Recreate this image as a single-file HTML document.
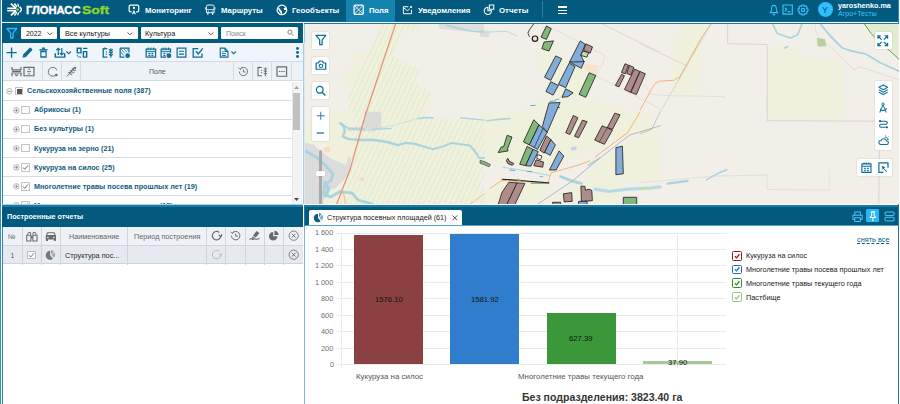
<!DOCTYPE html>
<html>
<head>
<meta charset="utf-8">
<style>
*{box-sizing:border-box;margin:0;padding:0}
html,body{width:900px;height:404px;overflow:hidden;background:#fff;font-family:"Liberation Sans",sans-serif;}
.abs{position:absolute}
.t{position:absolute;white-space:nowrap}
svg{position:absolute;overflow:visible}
#hdr{left:0;top:0;width:900px;height:22px;background:#035a7f}
#lp{left:2px;top:23px;width:300.6px;height:181px;background:#fff;overflow:hidden}
#frow{left:0;top:0;width:301px;height:20px;background:#035a7f}
.sel{position:absolute;top:4px;height:12.3px;background:#fff;border-radius:1px}
#tb{left:0;top:20px;width:301px;height:18px;background:#eff5fa}
#ch{left:0;top:38px;width:301px;height:20px;background:#edf2f7;border-top:1px solid #d3dbe4;border-bottom:1px solid #d3dbe4}
.vs{position:absolute;top:0;width:1px;height:18px;background:#d3dbe4}
.row{position:absolute;left:0;width:289.5px;height:19.1px;border-bottom:1px solid #d9dde2}
.cb{position:absolute;top:5.2px;width:8.4px;height:8.4px;border:0.8px solid #c4c4c4;background:#fbfbfb;border-radius:0.5px}
#map{left:305.3px;top:23.5px;width:593.5px;height:180.3px;background:#f2efe9;overflow:hidden}
.mb{position:absolute;width:17px;height:17px;background:#fff;border-radius:1.5px;box-shadow:0 0 1.5px rgba(0,0,0,.25)}
#bl{left:2px;top:206px;width:300.6px;height:198px;background:#fff;overflow:hidden}
#br{left:305.2px;top:206px;width:593.3px;height:198px;background:#fff;overflow:hidden}
</style>
</head>
<body>
<div id="hdr" class="abs">
<div class="abs" style="left:0;top:21px;width:900px;height:1px;background:#0f6b94"></div>
<div class="abs" style="left:346.2px;top:0;width:48.8px;height:22px;background:#1583b0"></div>
<svg style="left:6.70px;top:3.30px" width="15.00" height="13.00" viewBox="100 50 225 195" preserveAspectRatio="none"><path d="M104 130 H236 M104 166 H236" fill="none" stroke="#fff" stroke-width="24" /><path d="M158 60 L236 130 M158 236 L236 166" fill="none" stroke="#fff" stroke-width="28" /><path d="M212 58 L248 108 M212 238 L248 188" fill="none" stroke="#fff" stroke-width="22" /><path d="M262 62 L274 106 M262 234 L274 190" fill="none" stroke="#fff" stroke-width="20" /><path d="M290 106 L314 138 V158 L290 190" fill="none" stroke="#fff" stroke-width="22" /><circle cx="258" cy="148" r="19" fill="#9fe030"/></svg>
<svg style="left:127.80px;top:4.03px" width="11.89" height="11.35" viewBox="0 0 24 24" preserveAspectRatio="none"><path d="M16.5 16.8 H19 a2.6 2.6 0 0 0 2.6 -2.6 V5 a2.6 2.6 0 0 0 -2.6 -2.6 H5 a2.6 2.6 0 0 0 -2.6 2.6 V14.2 a2.6 2.6 0 0 0 2.6 2.6 H7.5" fill="none" stroke="#fff" stroke-width="2.5" /><circle cx="12" cy="8.2" r="2.3" fill="#fff"/><path d="M12 12 L7.6 22.5 L12 19.8 L16.4 22.5 Z" fill="#fff" /></svg><svg style="left:205.36px;top:4.23px" width="10.47" height="11.35" viewBox="0 0 24 24" preserveAspectRatio="none"><path d="M6.5 2.2 H17.5 a3.3 3.3 0 0 1 3.3 3.3 V18.4 H3.2 V5.5 a3.3 3.3 0 0 1 3.3 -3.3 Z" fill="none" stroke="#fff" stroke-width="2.1" /><path d="M3.2 11.8 H20.8" fill="none" stroke="#fff" stroke-width="1.6" /><path d="M6.5 18.5 V22.5 M17.5 18.5 V22.5" fill="none" stroke="#fff" stroke-width="2.8" /><path d="M1 7 V11.5 M23 7 V11.5" fill="none" stroke="#fff" stroke-width="1.6" /><circle cx="7.6" cy="15" r="1.3" fill="#fff"/><circle cx="16.4" cy="15" r="1.3" fill="#fff"/></svg><svg style="left:275.50px;top:3.80px" width="11.89" height="11.89" viewBox="0 0 24 24" preserveAspectRatio="none"><circle cx="12" cy="12" r="9.6" fill="none" stroke="#fff" stroke-width="2.5"/><path d="M4 8 C7 8 9 9.5 9 11.5 C9 13 11 13 12 14.5 C13 16 11.5 18 12 21 C9 20 9.5 17 8 16 C6 15 6.5 12.5 5 11.5 Z M20.5 7.5 C18 7 15.5 8 15.5 10 C15.5 12 18 12.5 20 12 C21 12 21.5 11 21.5 10 Z" fill="#fff" /></svg><svg style="left:352.53px;top:3.82px" width="11.35" height="11.56" viewBox="0 0 24 24" preserveAspectRatio="none"><rect x="2.3" y="2.3" width="19.4" height="19.4" rx="2.5" fill="none" stroke="#fff" stroke-width="2.6"/><path d="M3 3 L21 21 M21 3 L3 21" fill="none" stroke="#fff" stroke-width="1.7" /><path d="M3 12 C8 10 10 7 12 3 M12 21 C14 16 17 14 21 12" fill="none" stroke="#fff" stroke-width="1.1" /></svg><svg style="left:401.55px;top:4.56px" width="10.91" height="10.47" viewBox="0 0 24 24" preserveAspectRatio="none"><path d="M14 4 H3 V20 H21 V11 M3 6 L12 13 L17 9" fill="none" stroke="#fff" stroke-width="2.2" /><circle cx="20" cy="4.5" r="2.4" fill="#fff"/></svg><svg style="left:482.51px;top:4.13px" width="11.78" height="11.35" viewBox="0 0 24 24" preserveAspectRatio="none"><path d="M10 7 A7.5 7.5 0 1 0 17.5 14.5 H10 Z" fill="none" stroke="#fff" stroke-width="2.1" /><path d="M13 2 H22 V11 H13 Z" fill="none" stroke="#fff" stroke-width="2.1" /></svg><div class="abs" style="left:558px;top:6.2px;width:9px;height:1.4px;background:#fff"></div><div class="abs" style="left:558px;top:9.5px;width:9px;height:1.4px;background:#fff"></div><div class="abs" style="left:558px;top:12.8px;width:9px;height:1.4px;background:#fff"></div><svg style="left:768.89px;top:3.92px" width="9.82" height="11.56" viewBox="0 0 24 24" preserveAspectRatio="none"><path d="M12 3 C7 3 6 7 6 11 C6 15 4 16 3 18 H21 C20 16 18 15 18 11 C18 7 17 3 12 3 Z M9.5 20.5 a2.5 2.5 0 0 0 5 0" fill="none" stroke="#3cc4fb" stroke-width="2.4" /></svg><svg style="left:782.03px;top:4.14px" width="11.35" height="11.13" viewBox="0 0 24 24" preserveAspectRatio="none"><path d="M2.2 2.2 H21.8 V21.8 H2.2 Z" fill="none" stroke="#3cc4fb" stroke-width="2.4" /><path d="M6 8 L10 12 L6 16 M12 16.5 H18" fill="none" stroke="#3cc4fb" stroke-width="2.4" /></svg><svg style="left:796.50px;top:3.90px" width="12.00" height="12.00" viewBox="0 0 24 24" preserveAspectRatio="none"><circle cx="12" cy="12" r="3.2" fill="none" stroke="#3cc4fb" stroke-width="2.3"/><path d="M10 2 H14 L14.8 5 L17.5 3.8 L20.2 6.5 L19 9.2 L22 10 V14 L19 14.8 L20.2 17.5 L17.5 20.2 L14.8 19 L14 22 H10 L9.2 19 L6.5 20.2 L3.8 17.5 L5 14.8 L2 14 V10 L5 9.2 L3.8 6.5 L6.5 3.8 L9.2 5 Z" fill="none" stroke="#3cc4fb" stroke-width="2.2" stroke-linejoin="round"/></svg>
<div class="abs" style="left:542.2px;top:1.2px;width:0.9px;height:17.3px;background:#2c7da5"></div>
<div class="abs" style="left:818px;top:2.3px;width:14.8px;height:14.8px;border-radius:50%;background:#2fbffc"></div>
</div>
<div class="abs" style="left:898px;top:0;width:1px;height:404px;background:#2f89b3"></div>
<div class="abs" style="left:899px;top:0;width:1px;height:404px;background:#fff"></div>
<div class="abs" style="left:0;top:0;width:1px;height:404px;background:#3a8db5"></div>
<div class="abs" style="left:1px;top:0;width:1px;height:404px;background:#fff"></div>
<div id="lp" class="abs">
<div id="frow" class="abs">
<svg style="left:3.71px;top:4.19px" width="11.67" height="12.22" viewBox="0 0 24 24" preserveAspectRatio="none"><path d="M2 3 H22 L14.5 12 V21.5 H9.5 V12 Z" fill="none" stroke="#2dbbf8" stroke-width="2.7" stroke-linejoin="round"/></svg>
<div class="sel" style="left:19.3px;width:35.4px"></div>
<div class="sel" style="left:58px;width:77.5px"></div>
<div class="sel" style="left:138.8px;width:77px"></div>
<div class="sel" style="left:219.2px;width:77.2px"></div>
<svg style="left:45.30px;top:8.70px" width="5.80" height="3.40" viewBox="0 0 12 7" preserveAspectRatio="none"><path d="M1 1 L6 5.5 L11 1" fill="none" stroke="#444" stroke-width="1.8" /></svg><svg style="left:125.30px;top:8.70px" width="5.80" height="3.40" viewBox="0 0 12 7" preserveAspectRatio="none"><path d="M1 1 L6 5.5 L11 1" fill="none" stroke="#444" stroke-width="1.8" /></svg><svg style="left:206.10px;top:8.70px" width="5.80" height="3.40" viewBox="0 0 12 7" preserveAspectRatio="none"><path d="M1 1 L6 5.5 L11 1" fill="none" stroke="#444" stroke-width="1.8" /></svg><svg style="left:285.41px;top:6.49px" width="6.98" height="7.42" viewBox="0 0 24 24" preserveAspectRatio="none"><circle cx="10" cy="10" r="7" fill="none" stroke="#6a6a6a" stroke-width="2.6"/><path d="M15.5 15.5 L22 22" fill="none" stroke="#6a6a6a" stroke-width="2.8" /></svg>
</div>
<div id="tb" class="abs"><svg style="left:4.34px;top:3.93px" width="11.13" height="11.35" viewBox="0 0 24 24" preserveAspectRatio="none"><path d="M12 1 V23 M1 12 H23" fill="none" stroke="#0d6d96" stroke-width="2.88" /></svg><svg style="left:20.05px;top:3.93px" width="10.91" height="11.35" viewBox="0 0 24 24" preserveAspectRatio="none"><path d="M1 23 L3 15.5 L16.5 2 a2.5 2.5 0 0 1 3.5 0 L22 4 a2.5 2.5 0 0 1 0 3.5 L8.5 21 Z" fill="#0d6d96" /></svg><svg style="left:37.13px;top:3.93px" width="8.95" height="11.35" viewBox="0 0 24 24" preserveAspectRatio="none"><path d="M1 6 H23" fill="none" stroke="#0d6d96" stroke-width="3.06" /><path d="M8 2.6 H16" fill="none" stroke="#0d6d96" stroke-width="3.06" /><path d="M5 9.5 H19 V21.2 H5 Z" fill="none" stroke="#0d6d96" stroke-width="3.24" /></svg><svg style="left:51.50px;top:3.93px" width="12.00" height="11.35" viewBox="0 0 24 24" preserveAspectRatio="none"><path d="M2.6 13 V21.3 H21.4 V13" fill="none" stroke="#0d6d96" stroke-width="2.88" /><path d="M8.5 3 V17 M4.6 6.8 L8.5 2.6 L12.4 6.8 M15.5 2 V16.5 M11.6 12.4 L15.5 16.6 L19.4 12.4" fill="none" stroke="#0d6d96" stroke-width="2.43" /></svg><svg style="left:64.00px;top:7.60px" width="5.40" height="3.40" viewBox="0 0 12 7" preserveAspectRatio="none"><path d="M1 1 L6 5.5 L11 1" fill="none" stroke="#0d6d96" stroke-width="2.3" /></svg><svg style="left:73.50px;top:3.93px" width="12.00" height="11.35" viewBox="0 0 24 24" preserveAspectRatio="none"><path d="M2.6 2.6 H10 V12.4 H2.6 Z" fill="none" stroke="#0d6d96" stroke-width="2.88" /><path d="M14 3 H23" fill="none" stroke="#0d6d96" stroke-width="2.7" /><path d="M14.8 9.8 H21.3 V21.3 H14.8 Z" fill="none" stroke="#0d6d96" stroke-width="2.88" /><path d="M2 17 C3 21 6 21.5 10 21.5" fill="none" stroke="#0d6d96" stroke-width="1.98" /></svg><svg style="left:100.29px;top:3.93px" width="12.22" height="11.35" viewBox="0 0 24 24" preserveAspectRatio="none"><path d="M10.5 3.5 H2.4 V21.4 H10.5 M5.5 1 V5.5" fill="none" stroke="#0d6d96" stroke-width="2.61" /><path d="M8.5 9 V11.5 M8.5 14 V16.5" fill="none" stroke="#0d6d96" stroke-width="2.16" /><path d="M17.5 3 V22.5 M17.5 8.5 L13.6 5 M17.5 8.5 L21.4 5 M17.5 13.5 L13.6 10 M17.5 13.5 L21.4 10 M17.5 18.5 L13.6 15 M17.5 18.5 L21.4 15" fill="none" stroke="#0d6d96" stroke-width="2.34" /></svg><svg style="left:116.53px;top:3.93px" width="11.35" height="11.35" viewBox="0 0 24 24" preserveAspectRatio="none"><path d="M2.4 2.4 H21 V11.5 M2.4 2.4 V21.4 H11.5" fill="none" stroke="#0d6d96" stroke-width="2.52" /><path d="M3 3 L12 13 M9 3 L17 11 M3 10 L10 18 M15 3 L20 8" fill="none" stroke="#0d6d96" stroke-width="1.62" /><circle cx="18.3" cy="18.3" r="5" fill="#0d6d96"/></svg><svg style="left:142.51px;top:3.93px" width="11.78" height="11.35" viewBox="0 0 24 24" preserveAspectRatio="none"><path d="M2.4 4.5 H21.6 V21.6 H2.4 Z" fill="none" stroke="#0d6d96" stroke-width="2.52" /><path d="M2.4 9.3 H21.6" fill="none" stroke="#0d6d96" stroke-width="1.98" /><path d="M6.5 1 V6 M12 1 V6 M17.5 1 V6" fill="none" stroke="#0d6d96" stroke-width="2.34" /><path d="M7 12 H11 V15 H7Z M13 12 H17 V15 H13Z M7 16.4 H11 V19.4 H7Z M13 16.4 H17 V19.4 H13Z" fill="#0d6d96" /></svg><svg style="left:158.41px;top:3.93px" width="11.67" height="11.35" viewBox="0 0 24 24" preserveAspectRatio="none"><path d="M12.5 21.6 H2.4 V4.5 H21.6 V12" fill="none" stroke="#0d6d96" stroke-width="2.52" /><path d="M2.4 9.3 H21.6" fill="none" stroke="#0d6d96" stroke-width="1.98" /><path d="M6.5 1 V6 M12 1 V6 M17.5 1 V6" fill="none" stroke="#0d6d96" stroke-width="2.34" /><path d="M7 12 H11 V15 H7Z M13 12 H16 V14 H13Z M7 16.4 H11 V19.4 H7Z" fill="#0d6d96" /><circle cx="18.3" cy="18.3" r="5" fill="#0d6d96"/></svg><svg style="left:174.44px;top:3.93px" width="11.02" height="11.35" viewBox="0 0 24 24" preserveAspectRatio="none"><path d="M2.5 2.5 H21.5 V21.5 H2.5 Z" fill="none" stroke="#0d6d96" stroke-width="2.7" /><path d="M6.5 9 H17.5 M6.5 15 H17.5" fill="none" stroke="#0d6d96" stroke-width="2.61" /></svg><svg style="left:190.01px;top:3.93px" width="11.67" height="11.35" viewBox="0 0 24 24" preserveAspectRatio="none"><path d="M13 3.5 H2.5 V21.5 H20.5 V14" fill="none" stroke="#0d6d96" stroke-width="2.7" /><path d="M8 9 L13 14.5 L22 3" fill="none" stroke="#0d6d96" stroke-width="2.79" /></svg><svg style="left:217.17px;top:3.93px" width="10.25" height="11.35" viewBox="0 0 24 24" preserveAspectRatio="none"><path d="M3 2.5 H14 L21 9.5 V21.5 H3 Z" fill="none" stroke="#0d6d96" stroke-width="2.7" /><path d="M14 2.5 V9.5 H21" fill="none" stroke="#0d6d96" stroke-width="2.16" /><path d="M7 10 H11 M7 14 H16 M7 18 H16" fill="none" stroke="#0d6d96" stroke-width="1.98" /></svg><svg style="left:228.80px;top:7.60px" width="5.40" height="3.40" viewBox="0 0 12 7" preserveAspectRatio="none"><path d="M1 1 L6 5.5 L11 1" fill="none" stroke="#0d6d96" stroke-width="2.3" /></svg><div class="abs" style="left:293.8px;top:4.2px;width:2.9px;height:2.9px;border-radius:50%;background:#0d6d96"></div><div class="abs" style="left:293.8px;top:8.0px;width:2.9px;height:2.9px;border-radius:50%;background:#0d6d96"></div><div class="abs" style="left:293.8px;top:11.8px;width:2.9px;height:2.9px;border-radius:50%;background:#0d6d96"></div></div>
<div id="ch" class="abs">
<div class="vs" style="left:39.8px"></div>
<div class="vs" style="left:58.7px"></div>
<div class="vs" style="left:77.7px"></div>
<div class="vs" style="left:230.8px"></div>
<div class="vs" style="left:250.1px"></div>
<div class="vs" style="left:268.7px"></div>
<div class="vs" style="left:289.0px"></div>
<svg style="left:8.50px;top:3.94px" width="24.00" height="11.13" viewBox="0 0 48 24" preserveAspectRatio="none"><path d="M2 2 V8 H20 V2 M2 22 V15 H20 V22 M2 11.5 H20 M8 18 L11 21 L14 18" fill="none" stroke="#6a6a6a" stroke-width="2.4" /><path d="M26 3 H46 V21 H26 Z" fill="none" stroke="#6a6a6a" stroke-width="2.4" /><path d="M32 12 H40 M33.5 8.5 L36 6 L38.5 8.5 M33.5 15.5 L36 18 L38.5 15.5" fill="none" stroke="#6a6a6a" stroke-width="1.8" /></svg><svg style="left:44.52px;top:3.94px" width="11.45" height="11.13" viewBox="0 0 24 24" preserveAspectRatio="none"><path d="M18 20 A9.5 9.5 0 1 1 21 9" fill="none" stroke="#6a6a6a" stroke-width="2" /><circle cx="19.5" cy="19.5" r="2.8" fill="#6a6a6a"/></svg><svg style="left:63.55px;top:3.94px" width="10.91" height="11.13" viewBox="0 0 24 24" preserveAspectRatio="none"><path d="M2 22.5 L19 5" fill="none" stroke="#6a6a6a" stroke-width="2" /><path d="M22.5 1.5 L21.5 8 L16 2.5 Z M17.5 4.5 L18 11.5 L11.5 5.5 Z M13.5 8.5 L14 15.5 L7.5 9.5 Z M9.5 12.5 L10 19.5 L4 13.5 Z M22.5 9 L19 12 L18.5 8 Z M19 13.5 L15 16 L14.8 12.5 Z M15 17.5 L11 20 L10.8 16.5 Z" fill="#6a6a6a" /></svg><svg style="left:235.85px;top:3.94px" width="10.91" height="11.13" viewBox="0 0 24 24" preserveAspectRatio="none"><path d="M4.5 7 A9 9 0 1 1 3 12" fill="none" stroke="#6a6a6a" stroke-width="2" /><path d="M1 3.5 L5.2 7.8 L8.5 3 " fill="none" stroke="#6a6a6a" stroke-width="1.8" /><path d="M12 7.5 V13 H16.5" fill="none" stroke="#6a6a6a" stroke-width="2" /></svg><svg style="left:254.50px;top:3.94px" width="11.89" height="11.13" viewBox="0 0 24 24" preserveAspectRatio="none"><path d="M10 3 H2 V21 H10 M5 1 V5 M9 8 V10 M9 13 V15" fill="none" stroke="#6a6a6a" stroke-width="2.2" /><path d="M17 3 V22 M17 8 L13.5 5 M17 8 L20.5 5 M17 13 L13.5 10 M17 13 L20.5 10 M17 18 L13.5 15 M17 18 L20.5 15" fill="none" stroke="#6a6a6a" stroke-width="2" /></svg><svg style="left:273.72px;top:3.94px" width="11.56" height="11.13" viewBox="0 0 24 24" preserveAspectRatio="none"><path d="M2 2 H22 V22 H2 Z" fill="none" stroke="#6a6a6a" stroke-width="2.4" /><path d="M6 12 H9 M10.7 12 H13.7 M15.4 12 H18.4" fill="none" stroke="#6a6a6a" stroke-width="2.2" /></svg>
</div>
<div id="tree" class="abs" style="left:0;top:58.6px;width:301px;height:123px;background:#fff">
<div class="row" style="top:0.0px"><svg style="left:4.22px;top:6.12px" width="6.76" height="6.76" viewBox="0 0 24 24" preserveAspectRatio="none"><circle cx="12" cy="12" r="9.8" fill="#fff" stroke="#7d7d7d" stroke-width="2"/><path d="M6 12 H18" fill="none" stroke="#666" stroke-width="2.3" /></svg><div class="cb" style="left:12.7px"><div class="abs" style="left:1.3px;top:1.3px;width:4.6px;height:4.6px;background:#555"></div></div></div>
<div class="row" style="top:19.1px"><svg style="left:10.72px;top:6.12px" width="6.76" height="6.76" viewBox="0 0 24 24" preserveAspectRatio="none"><circle cx="12" cy="12" r="9.8" fill="#fff" stroke="#7d7d7d" stroke-width="2"/><path d="M6 12 H18 M12 6 V18" fill="none" stroke="#666" stroke-width="2.3" /></svg><div class="cb" style="left:19.2px"></div></div>
<div class="row" style="top:38.2px"><svg style="left:10.72px;top:6.12px" width="6.76" height="6.76" viewBox="0 0 24 24" preserveAspectRatio="none"><circle cx="12" cy="12" r="9.8" fill="#fff" stroke="#7d7d7d" stroke-width="2"/><path d="M6 12 H18 M12 6 V18" fill="none" stroke="#666" stroke-width="2.3" /></svg><div class="cb" style="left:19.2px"></div></div>
<div class="row" style="top:57.300000000000004px"><svg style="left:10.72px;top:6.12px" width="6.76" height="6.76" viewBox="0 0 24 24" preserveAspectRatio="none"><circle cx="12" cy="12" r="9.8" fill="#fff" stroke="#7d7d7d" stroke-width="2"/><path d="M6 12 H18 M12 6 V18" fill="none" stroke="#666" stroke-width="2.3" /></svg><div class="cb" style="left:19.2px"></div></div>
<div class="row" style="top:76.4px"><svg style="left:10.72px;top:6.12px" width="6.76" height="6.76" viewBox="0 0 24 24" preserveAspectRatio="none"><circle cx="12" cy="12" r="9.8" fill="#fff" stroke="#7d7d7d" stroke-width="2"/><path d="M6 12 H18 M12 6 V18" fill="none" stroke="#666" stroke-width="2.3" /></svg><div class="cb" style="left:19.2px"><svg style="left:0;top:0" width="6.8" height="6.8" viewBox="0 0 10 10"><path d="M1.5 5.2 L4 7.8 L8.8 2" fill="none" stroke="#444" stroke-width="1.1"/></svg></div></div>
<div class="row" style="top:95.5px"><svg style="left:10.72px;top:6.12px" width="6.76" height="6.76" viewBox="0 0 24 24" preserveAspectRatio="none"><circle cx="12" cy="12" r="9.8" fill="#fff" stroke="#7d7d7d" stroke-width="2"/><path d="M6 12 H18 M12 6 V18" fill="none" stroke="#666" stroke-width="2.3" /></svg><div class="cb" style="left:19.2px"><svg style="left:0;top:0" width="6.8" height="6.8" viewBox="0 0 10 10"><path d="M1.5 5.2 L4 7.8 L8.8 2" fill="none" stroke="#444" stroke-width="1.1"/></svg></div></div>
<div class="row" style="top:114.60000000000001px"><svg style="left:10.72px;top:6.12px" width="6.76" height="6.76" viewBox="0 0 24 24" preserveAspectRatio="none"><circle cx="12" cy="12" r="9.8" fill="#fff" stroke="#7d7d7d" stroke-width="2"/><path d="M6 12 H18 M12 6 V18" fill="none" stroke="#666" stroke-width="2.3" /></svg><div class="cb" style="left:19.2px"><svg style="left:0;top:0" width="6.8" height="6.8" viewBox="0 0 10 10"><path d="M1.5 5.2 L4 7.8 L8.8 2" fill="none" stroke="#444" stroke-width="1.1"/></svg></div></div>
<div class="abs" style="left:289.5px;top:0;width:10px;height:123px;background:#f3f3f3;border-left:0.5px solid #e6e6e6"></div>
<div class="abs" style="left:291px;top:11.7px;width:7px;height:37px;background:#c1c1c1"></div>
<svg style="left:292px;top:4px" width="5" height="3" viewBox="0 0 10 6"><path d="M0 6 L5 0 L10 6Z" fill="#a0a0a0"/></svg>
<svg style="left:292px;top:116px" width="5" height="3" viewBox="0 0 10 6"><path d="M0 0 L5 6 L10 0Z" fill="#444"/></svg>
</div>
</div>
<div class="abs" style="left:2px;top:203.6px;width:300.6px;height:1px;background:#a8cfe4"></div>
<div class="abs" style="left:304px;top:22.7px;height:181.1px;width:595.2px;background:#1c7aa6"></div>
<div id="map" class="abs">
<svg style="left:-305.3px;top:-23.5px" width="900" height="404" viewBox="0 0 900 404"><polygon points="382.0,23.1 419.8,23.1 418.7,28.7 403.1,30.5 393.1,55.4 419.8,69.9 414.2,82.1 432.1,93.3 424.3,112.0 348.5,112.0 347.4,88.8 341.9,86.6 341.9,69.9 353.0,68.8 353.0,53.2 368.6,52.1" fill="#f0f1dc" stroke-linejoin="round" /><polygon points="329.3,112.0 423.8,112.0 428.4,117.8 484.2,121.2 484.2,205.1 324.7,205.1 324.7,144.3 304.0,144.3 304.0,125.8 329.3,125.8" fill="#f0f1dc" stroke-linejoin="round" /><polygon points="534.6,51.0 553.5,50.5 573.5,62.1 586.9,72.1 578.0,96.6 619.9,106.0 627.0,107.7 627.0,112.0 522.3,112.0 524.5,107.7 546.8,97.7 544.6,77.7 535.7,62.1" fill="#f0f1dc" stroke-linejoin="round" /><polygon points="480.0,112.0 609.0,112.0 641.3,112.0 639.0,125.8 660.2,130.4 660.2,181.1 622.9,183.4 618.2,205.1 480.0,205.1" fill="#f0f1dc" stroke-linejoin="round" /><polygon points="480.0,158.1 507.6,166.1 549.1,172.4 576.8,166.1 588.3,181.1 549.1,188.0 533.0,185.3 503.0,178.8 480.0,192.6" fill="#f2efe9" stroke-linejoin="round" /><polygon points="558.3,165.0 599.8,146.6 618.2,139.6 660.2,125.8 660.2,131.6 627.5,139.6 604.4,158.1 579.1,181.1 556.0,201.9 537.6,205.1 549.1,188.0" fill="#f2efe9" stroke-linejoin="round" /><polygon points="683.4,23.4 708.8,23.4 701.3,36.5 697.8,94.3 671.8,94.3 674.7,36.5 683.4,35.0" fill="#f0f1dc" stroke-linejoin="round" /><polygon points="768.6,48.0 797.5,47.4 798.4,58.1 842.3,59.6 843.8,112.2 764.3,112.2 764.9,97.1 768.6,96.6" fill="#f0f1dc" stroke-linejoin="round" /><polygon points="768.6,112.0 843.8,112.0 843.8,120.7 768.6,120.7" fill="#f0f1dc" stroke-linejoin="round" /><polygon points="640.0,112.0 651.6,112.0 650.1,169.8 640.0,169.8" fill="#f0f1dc" stroke-linejoin="round" /><polygon points="584.7,63.2 599.2,65.4 595.8,75.0 584.2,69.9" fill="#f5e3cc" stroke-linejoin="round" /><polygon points="364.3,111.7 381.3,111.7 381.3,128.3 372.6,131.4 347.7,130.8 348.7,127.3 363.9,126.2" fill="#dcdcdc" stroke-linejoin="round" /><polygon points="304.0,142.5 313.4,144.5 320.6,151.2 331.0,158.5 345.6,164.7 348.7,155.8 351.0,159.9 351.4,170.9 343.5,180.3 335.2,188.6 325.8,189.6 323.1,204.0 304.0,204.0" fill="#dcdcdc" stroke-linejoin="round" /><polygon points="323.8,147.0 330.0,147.0 330.0,152.2 323.8,152.2" fill="#f5dcc3" stroke-linejoin="round" /><polygon points="359.7,177.2 364.7,178.2 363.9,181.5 359.1,180.7" fill="#f5dcc3" stroke-linejoin="round" /><polygon points="437.6,23.1 484.0,23.1 484.0,33.1 459.9,30.9 439.9,28.7" fill="#dfdfdf" stroke-linejoin="round" /><polygon points="480.0,29.8 490.0,30.9 488.9,37.6 480.0,36.5" fill="#dcdcdc" stroke-linejoin="round" /><polygon points="864.0,23.4 898.7,23.4 898.7,59.0 891.4,52.3 879.9,42.2 871.2,33.6" fill="#e3ecd0" stroke-linejoin="round" /><polyline points="864.0,23.4 871.2,33.6 879.9,42.2 891.4,52.3 898.7,59.0" fill="none" stroke="#5f8f55" stroke-width="0.9" stroke-linejoin="round" stroke-linecap="round" /><polygon points="816.9,37.9 825.0,39.3 826.4,46.6 817.7,46.6" fill="#b5d29a" stroke-linejoin="round" /><polyline points="340.4,123.1 343.9,126.7 344.7,131.4 342.7,136.6 348.7,139.1 360.1,140.0 372.6,139.8 387.2,142.0 397.6,145.2 405.9,142.9 416.3,144.1" fill="none" stroke="#aad3df" stroke-width="2.4" stroke-linejoin="round" stroke-linecap="round" /><polyline points="416.4,144.3 433.0,149.3 442.2,146.6 451.5,143.1 469.9,145.4 475.7,152.3 479.1,158.1 484.2,158.1" fill="none" stroke="#aad3df" stroke-width="2.0" stroke-linejoin="round" stroke-linecap="round" /><polyline points="341.0,123.7 348.1,128.3 364.3,129.4" fill="none" stroke="#aad3df" stroke-width="1.8" stroke-linejoin="round" stroke-linecap="round" /><polyline points="372.6,129.4 391.3,128.3" fill="none" stroke="#aad3df" stroke-width="1.2" stroke-linejoin="round" stroke-linecap="round" /><polyline points="380.0,128.1 396.2,124.7 418.1,118.5" fill="none" stroke="#aad3df" stroke-width="0.5" stroke-linejoin="round" stroke-linecap="round" /><polyline points="418.1,118.5 426.1,117.5 433.0,117.8" fill="none" stroke="#aad3df" stroke-width="1.7" stroke-linejoin="round" stroke-linecap="round" /><polyline points="460.7,117.8 484.2,120.1" fill="none" stroke="#aad3df" stroke-width="1.4" stroke-linejoin="round" stroke-linecap="round" /><polyline points="306.1,151.2 316.5,157.4 324.8,164.7 333.1,174.1 331.0,180.3 324.8,184.4 323.8,194.8 331.0,196.9 339.3,191.7 351.8,192.8 358.1,200.0 366.4,202.3 372.6,204.0" fill="none" stroke="#aad3df" stroke-width="2.8" stroke-linejoin="round" stroke-linecap="round" /><polyline points="324.8,182.4 328.9,188.6 325.8,195.9" fill="none" stroke="#aad3df" stroke-width="3.5" stroke-linejoin="round" stroke-linecap="round" /><polyline points="446.5,25.3 459.9,28.7 473.3,31.4 484.0,32.0" fill="none" stroke="#aad3df" stroke-width="1.4" stroke-linejoin="round" stroke-linecap="round" /><polyline points="488.9,32.0 506.7,31.4 516.7,35.8" fill="none" stroke="#aad3df" stroke-width="0.8" stroke-linejoin="round" stroke-linecap="round" /><polyline points="486.9,120.8 498.4,119.4 510.0,118.5" fill="none" stroke="#aad3df" stroke-width="1.6" stroke-linejoin="round" stroke-linecap="round" /><polyline points="503.0,167.3 526.1,170.8 549.1,175.4" fill="none" stroke="#aad3df" stroke-width="1.0" stroke-linejoin="round" stroke-linecap="round" /><polyline points="560.6,176.5 572.2,181.1 581.4,183.4" fill="none" stroke="#aad3df" stroke-width="2.8" stroke-linejoin="round" stroke-linecap="round" /><polyline points="595.2,189.2 609.0,191.5 627.5,189.2 650.5,188.0 660.2,186.9" fill="none" stroke="#b7dae5" stroke-width="3.2" stroke-linejoin="round" stroke-linecap="round" /><polyline points="588.3,165.0 599.8,158.1" fill="none" stroke="#aad3df" stroke-width="1.6" stroke-linejoin="round" stroke-linecap="round" /><polyline points="772.9,24.3 777.3,33.6 790.3,37.9 797.5,35.0 801.8,24.3" fill="none" stroke="#aad3df" stroke-width="1.6" stroke-linejoin="round" stroke-linecap="round" /><polyline points="820.6,24.3 830.8,36.5 842.3,48.0 851.0,50.9 865.4,53.8 879.9,62.5 898.7,71.1" fill="none" stroke="#aad3df" stroke-width="1.8" stroke-linejoin="round" stroke-linecap="round" /><polyline points="784.5,48.0 788.0,46.6" fill="none" stroke="#aad3df" stroke-width="1.6" stroke-linejoin="round" stroke-linecap="round" /><polyline points="640.0,189.5 651.6,187.7" fill="none" stroke="#c5e0a0" stroke-width="1.6" stroke-linejoin="round" stroke-linecap="round" /><polyline points="667.5,183.7 687.7,180.8" fill="none" stroke="#aad3df" stroke-width="2.2" stroke-linejoin="round" stroke-linecap="round" /><polyline points="706.5,179.9 716.6,174.1 726.7,169.8" fill="none" stroke="#aad3df" stroke-width="1.6" stroke-linejoin="round" stroke-linecap="round" /><clipPath id="cf"><polygon points="382.0,23.1 419.8,23.1 418.7,28.7 403.1,30.5 393.1,55.4 419.8,69.9 414.2,82.1 432.1,93.3 424.3,112.0 348.5,112.0 347.4,88.8 341.9,86.6 341.9,69.9 353.0,68.8 353.0,53.2 368.6,52.1"/><polygon points="353.5,112.0 423.8,112.0 428.4,117.8 484.2,121.2 484.2,205.1 338.6,205.1 350.1,169.6"/></clipPath><g clip-path="url(#cf)"><line x1="384.6" y1="22" x2="298.6" y2="204" stroke="#bfdcb0" stroke-width="0.32"/><line x1="389.8" y1="22" x2="303.8" y2="204" stroke="#bfdcb0" stroke-width="0.32"/><line x1="395.0" y1="22" x2="309.0" y2="204" stroke="#bfdcb0" stroke-width="0.32"/><line x1="400.2" y1="22" x2="314.2" y2="204" stroke="#bfdcb0" stroke-width="0.32"/><line x1="405.4" y1="22" x2="319.4" y2="204" stroke="#bfdcb0" stroke-width="0.32"/><line x1="410.6" y1="22" x2="324.6" y2="204" stroke="#bfdcb0" stroke-width="0.32"/><line x1="415.8" y1="22" x2="329.8" y2="204" stroke="#bfdcb0" stroke-width="0.32"/><line x1="421.0" y1="22" x2="335.0" y2="204" stroke="#bfdcb0" stroke-width="0.32"/><line x1="426.2" y1="22" x2="340.2" y2="204" stroke="#bfdcb0" stroke-width="0.32"/><line x1="431.4" y1="22" x2="345.4" y2="204" stroke="#bfdcb0" stroke-width="0.32"/><line x1="436.6" y1="22" x2="350.6" y2="204" stroke="#bfdcb0" stroke-width="0.32"/><line x1="441.8" y1="22" x2="355.8" y2="204" stroke="#bfdcb0" stroke-width="0.32"/><line x1="447.0" y1="22" x2="361.0" y2="204" stroke="#bfdcb0" stroke-width="0.32"/><line x1="452.2" y1="22" x2="366.2" y2="204" stroke="#bfdcb0" stroke-width="0.32"/><line x1="457.4" y1="22" x2="371.4" y2="204" stroke="#bfdcb0" stroke-width="0.32"/><line x1="462.6" y1="22" x2="376.6" y2="204" stroke="#bfdcb0" stroke-width="0.32"/><line x1="467.8" y1="22" x2="381.8" y2="204" stroke="#bfdcb0" stroke-width="0.32"/><line x1="473.0" y1="22" x2="387.0" y2="204" stroke="#bfdcb0" stroke-width="0.32"/><line x1="478.2" y1="22" x2="392.2" y2="204" stroke="#bfdcb0" stroke-width="0.32"/><line x1="483.4" y1="22" x2="397.4" y2="204" stroke="#bfdcb0" stroke-width="0.32"/><line x1="488.6" y1="22" x2="402.6" y2="204" stroke="#bfdcb0" stroke-width="0.32"/><line x1="493.8" y1="22" x2="407.8" y2="204" stroke="#bfdcb0" stroke-width="0.32"/><line x1="499.0" y1="22" x2="413.0" y2="204" stroke="#bfdcb0" stroke-width="0.32"/><line x1="504.2" y1="22" x2="418.2" y2="204" stroke="#bfdcb0" stroke-width="0.32"/><line x1="509.4" y1="22" x2="423.4" y2="204" stroke="#bfdcb0" stroke-width="0.32"/><line x1="514.6" y1="22" x2="428.6" y2="204" stroke="#bfdcb0" stroke-width="0.32"/><line x1="519.8" y1="22" x2="433.8" y2="204" stroke="#bfdcb0" stroke-width="0.32"/><line x1="525.0" y1="22" x2="439.0" y2="204" stroke="#bfdcb0" stroke-width="0.32"/><line x1="530.2" y1="22" x2="444.2" y2="204" stroke="#bfdcb0" stroke-width="0.32"/><line x1="535.4" y1="22" x2="449.4" y2="204" stroke="#bfdcb0" stroke-width="0.32"/><line x1="540.6" y1="22" x2="454.6" y2="204" stroke="#bfdcb0" stroke-width="0.32"/><line x1="545.8" y1="22" x2="459.8" y2="204" stroke="#bfdcb0" stroke-width="0.32"/><line x1="551.0" y1="22" x2="465.0" y2="204" stroke="#bfdcb0" stroke-width="0.32"/><line x1="556.2" y1="22" x2="470.2" y2="204" stroke="#bfdcb0" stroke-width="0.32"/><line x1="561.4" y1="22" x2="475.4" y2="204" stroke="#bfdcb0" stroke-width="0.32"/><line x1="566.6" y1="22" x2="480.6" y2="204" stroke="#bfdcb0" stroke-width="0.32"/><line x1="571.8" y1="22" x2="485.8" y2="204" stroke="#bfdcb0" stroke-width="0.32"/><line x1="577.0" y1="22" x2="491.0" y2="204" stroke="#bfdcb0" stroke-width="0.32"/><line x1="582.2" y1="22" x2="496.2" y2="204" stroke="#bfdcb0" stroke-width="0.32"/><line x1="587.4" y1="22" x2="501.4" y2="204" stroke="#bfdcb0" stroke-width="0.32"/><line x1="592.6" y1="22" x2="506.6" y2="204" stroke="#bfdcb0" stroke-width="0.32"/><line x1="597.8" y1="22" x2="511.8" y2="204" stroke="#bfdcb0" stroke-width="0.32"/><line x1="603.0" y1="22" x2="517.0" y2="204" stroke="#bfdcb0" stroke-width="0.32"/><line x1="608.2" y1="22" x2="522.2" y2="204" stroke="#bfdcb0" stroke-width="0.32"/><line x1="613.4" y1="22" x2="527.4" y2="204" stroke="#bfdcb0" stroke-width="0.32"/><line x1="618.6" y1="22" x2="532.6" y2="204" stroke="#bfdcb0" stroke-width="0.32"/><line x1="623.8" y1="22" x2="537.8" y2="204" stroke="#bfdcb0" stroke-width="0.32"/><line x1="629.0" y1="22" x2="543.0" y2="204" stroke="#bfdcb0" stroke-width="0.32"/><line x1="634.2" y1="22" x2="548.2" y2="204" stroke="#bfdcb0" stroke-width="0.32"/><line x1="639.4" y1="22" x2="553.4" y2="204" stroke="#bfdcb0" stroke-width="0.32"/></g><polyline points="395.8,23.1 366.4,112.0" fill="none" stroke="#f08f78" stroke-width="1.3" stroke-linejoin="round" stroke-linecap="round" /><polyline points="366.2,112.0 350.1,169.6 336.3,205.1" fill="none" stroke="#f08f78" stroke-width="1.3" stroke-linejoin="round" stroke-linecap="round" /><polyline points="340.9,190.3 344.3,196.1 345.5,205.1" fill="none" stroke="#f5ad62" stroke-width="0.8" stroke-linejoin="round" stroke-linecap="round" /><polyline points="468.7,205.1 484.2,193.8" fill="none" stroke="#f5ad62" stroke-width="0.7" stroke-linejoin="round" stroke-linecap="round" /><polyline points="490.0,188.4 497.1,183.5 502.4,180.4 525.6,181.7 548.7,183.3 549.0,178.7 551.3,172.8 568.2,168.0 578.9,165.0 589.6,160.9" fill="none" stroke="#f5ad62" stroke-width="0.9" stroke-linejoin="round" stroke-linecap="round" /><polyline points="595.2,156.9 627.5,132.7 640.1,112.0" fill="none" stroke="#f5ad62" stroke-width="0.9" stroke-linejoin="round" stroke-linecap="round" /><polyline points="710.8,24.3 702.1,36.5 686.2,65.4 679.0,78.4" fill="none" stroke="#f5ad62" stroke-width="0.9" stroke-linejoin="round" stroke-linecap="round" /><polyline points="678.0,77.5 674.3,80.2 670.0,80.5 659.4,81.2 655.3,83.4 652.7,87.1 640.1,110.0" fill="none" stroke="#f5ad62" stroke-width="0.9" stroke-linejoin="round" stroke-linecap="round" /><polyline points="660.2,112.2 686.2,66.8 710.8,24.3" fill="none" stroke="#b8b8b8" stroke-width="0.5" stroke-linejoin="round" stroke-linecap="round" /><polyline points="537.6,204.2 572.2,181.1 599.8,158.1 629.8,135.0 660.2,125.8" fill="none" stroke="#a8a8a8" stroke-width="0.8" stroke-linejoin="round" stroke-linecap="round" /><polyline points="546.8,25.3 604.7,55.4 602.5,64.3 595.8,75.5 660.0,108.9" fill="none" stroke="#c9c9c9" stroke-width="0.4" stroke-linejoin="round" stroke-linecap="round" /><polyline points="640.0,79.8 651.6,94.3 668.9,95.7 723.8,96.6 723.8,98.6" fill="none" stroke="#c9c9c9" stroke-width="0.4" stroke-linejoin="round" stroke-linecap="round" /><polyline points="640.0,182.8 712.3,176.2 767.2,175.0 767.2,189.5 829.3,190.0 829.3,169.2" fill="none" stroke="#c9c9c9" stroke-width="0.4" stroke-linejoin="round" stroke-linecap="round" /><polyline points="660.2,112.0 651.6,129.3 640.0,133.7" fill="none" stroke="#999" stroke-width="0.5" stroke-linejoin="round" stroke-linecap="round" /><polyline points="814.9,24.3 816.3,33.6 853.9,69.7 859.7,66.8 898.7,79.8" fill="none" stroke="#c4c4c4" stroke-width="0.4" stroke-linejoin="round" stroke-linecap="round" /><polyline points="727.6,24.3 727.6,43.7 767.2,44.5 767.2,112.2" fill="none" stroke="#d3b8d3" stroke-width="0.6" stroke-linejoin="round" stroke-linecap="round" stroke-dasharray="2 0.8"/><polyline points="767.2,112.0 767.2,120.7 879.9,121.2 878.7,205.1" fill="none" stroke="#d3b8d3" stroke-width="0.6" stroke-linejoin="round" stroke-linecap="round" stroke-dasharray="2 0.8"/><polyline points="602.5,24.2 660.0,52.1" fill="none" stroke="#d3b8d3" stroke-width="0.5" stroke-linejoin="round" stroke-linecap="round" stroke-dasharray="2 0.8"/><polyline points="640.0,43.7 686.2,65.4" fill="none" stroke="#d3b8d3" stroke-width="0.5" stroke-linejoin="round" stroke-linecap="round" /><polyline points="533.5,24.2 529.4,29.8 527.9,33.1 529.4,36.5" fill="none" stroke="#1a1a1a" stroke-width="0.8" stroke-linejoin="round" stroke-linecap="round" /><circle cx="535.0" cy="38.7" r="2.7" fill="#fbe6cf" stroke="#1a1a1a" stroke-width="1.2"/><polygon points="546.4,26.0 551.3,28.7 546.4,39.4 541.0,37.1" fill="#84b878" stroke="#1a1a1a" stroke-width="0.8" stroke-linejoin="round" /><polygon points="544.1,42.0 553.5,40.9 549.0,51.0 541.9,48.7" fill="#84b878" stroke="#1a1a1a" stroke-width="0.8" stroke-linejoin="round" /><polygon points="580.2,40.9 585.3,44.3 580.7,55.4 584.2,61.6 581.3,68.3 569.5,62.1" fill="#82acd9" stroke="#1a1a1a" stroke-width="0.8" stroke-linejoin="round" /><polyline points="569.5,62.1 584.2,61.6" fill="none" stroke="#1a1a1a" stroke-width="0.8" stroke-linejoin="round" stroke-linecap="round" /><polygon points="585.8,43.8 592.5,46.9 590.2,53.2 583.6,50.5" fill="#b08b8b" stroke="#1a1a1a" stroke-width="0.8" stroke-linejoin="round" /><polygon points="582.9,51.0 588.7,52.7 586.9,57.2 580.7,55.4" fill="#c5d7a8" stroke="#1a1a1a" stroke-width="0.8" stroke-linejoin="round" /><polygon points="555.7,55.9 561.7,58.7 550.8,80.4 544.6,77.2" fill="#82acd9" stroke="#1a1a1a" stroke-width="0.8" stroke-linejoin="round" /><polygon points="569.1,63.2 575.1,66.5 565.7,87.7 558.4,84.4" fill="#82acd9" stroke="#1a1a1a" stroke-width="0.8" stroke-linejoin="round" /><polygon points="550.8,81.7 558.4,85.5 553.1,95.1 545.9,91.5" fill="#82acd9" stroke="#1a1a1a" stroke-width="0.8" stroke-linejoin="round" /><polygon points="565.7,88.8 573.1,92.8 568.0,96.6 562.0,97.3" fill="#82acd9" stroke="#1a1a1a" stroke-width="0.8" stroke-linejoin="round" /><polygon points="589.1,72.8 595.8,75.5 585.8,97.3 579.1,94.4" fill="#84b878" stroke="#1a1a1a" stroke-width="0.8" stroke-linejoin="round" /><polygon points="625.0,63.7 628.5,65.2 625.3,73.8 621.5,72.6" fill="#b08b8b" stroke="#1a1a1a" stroke-width="0.8" stroke-linejoin="round" /><polygon points="621.5,74.5 624.5,75.6 619.0,86.8 615.3,85.4" fill="#b08b8b" stroke="#1a1a1a" stroke-width="0.8" stroke-linejoin="round" /><polygon points="629.3,65.3 633.9,67.5 630.9,75.0 626.7,73.5" fill="#b08b8b" stroke="#1a1a1a" stroke-width="0.8" stroke-linejoin="round" /><polygon points="634.5,69.0 639.8,71.5 630.5,92.3 624.5,89.4" fill="#b08b8b" stroke="#1a1a1a" stroke-width="0.8" stroke-linejoin="round" /><polygon points="640.1,71.5 645.3,73.8 636.4,94.6 630.9,92.3" fill="#b08b8b" stroke="#1a1a1a" stroke-width="0.8" stroke-linejoin="round" /><polyline points="549.0,104.9 559.7,107.7" fill="none" stroke="#1a1a1a" stroke-width="0.7" stroke-linejoin="round" stroke-linecap="round" /><polyline points="530.8,105.5 535.2,105.3" fill="none" stroke="#3b8de8" stroke-width="0.8" stroke-linejoin="round" stroke-linecap="round" /><polyline points="550.2,101.3 555.7,100.8" fill="none" stroke="#3b8de8" stroke-width="0.8" stroke-linejoin="round" stroke-linecap="round" /><polyline points="555.7,99.5 559.1,99.1" fill="none" stroke="#3b8de8" stroke-width="0.6" stroke-linejoin="round" stroke-linecap="round" /><polygon points="549.0,102.9 560.1,102.6 547.2,132.3 542.3,126.6" fill="#82acd9" stroke="#1a1a1a" stroke-width="0.8" stroke-linejoin="round" /><polygon points="533.8,119.7 539.0,124.9 529.4,144.9 523.4,141.9" fill="#84b878" stroke="#1a1a1a" stroke-width="0.8" stroke-linejoin="round" /><polygon points="539.0,124.9 547.2,132.3 537.5,149.4 529.4,144.9" fill="#82acd9" stroke="#1a1a1a" stroke-width="0.8" stroke-linejoin="round" /><polyline points="542.9,128.7 534.3,147.4" fill="none" stroke="#1a1a1a" stroke-width="0.6" stroke-linejoin="round" stroke-linecap="round" /><polygon points="546.5,136.0 550.9,139.7 544.2,153.1 539.8,150.1" fill="#b08b8b" stroke="#1a1a1a" stroke-width="0.8" stroke-linejoin="round" /><polygon points="550.9,139.7 555.4,144.9 550.2,155.3 544.7,152.3" fill="#82acd9" stroke="#1a1a1a" stroke-width="0.8" stroke-linejoin="round" /><polygon points="527.1,146.4 533.1,149.4 525.7,165.7 519.7,164.2" fill="#84b878" stroke="#1a1a1a" stroke-width="0.8" stroke-linejoin="round" /><polygon points="533.1,149.4 538.3,151.6 530.9,166.2 525.7,165.7" fill="#82acd9" stroke="#1a1a1a" stroke-width="0.8" stroke-linejoin="round" /><polygon points="537.5,154.6 542.0,156.1 540.5,159.8 536.8,158.3" fill="#fff" stroke="#1a1a1a" stroke-width="0.8" stroke-linejoin="round" /><polygon points="536.1,159.8 543.5,162.0 542.7,167.2 533.8,165.7" fill="#b08b8b" stroke="#1a1a1a" stroke-width="0.8" stroke-linejoin="round" /><polygon points="559.1,150.9 563.8,156.1 556.1,170.0 549.4,170.0" fill="#82acd9" stroke="#1a1a1a" stroke-width="0.8" stroke-linejoin="round" /><polygon points="507.1,135.3 512.0,137.0 507.5,148.9 508.1,150.9 498.2,152.6 501.1,147.1 503.7,146.6" fill="#84b878" stroke="#1a1a1a" stroke-width="0.8" stroke-linejoin="round" /><polygon points="507.8,158.3 509.3,161.3 513.8,163.5 512.3,165.3 507.8,163.5 506.3,160.5" fill="#b08b8b" stroke="#1a1a1a" stroke-width="0.8" stroke-linejoin="round" /><polygon points="480.0,160.4 484.6,161.5 490.4,164.5 489.2,166.8 483.5,164.5 480.0,163.2" fill="#84b878" stroke="#1a1a1a" stroke-width="0.5" stroke-linejoin="round" /><polygon points="573.3,115.5 577.9,117.8 569.9,134.6 565.7,132.7" fill="#b08b8b" stroke="#1a1a1a" stroke-width="0.8" stroke-linejoin="round" /><polygon points="582.5,120.1 587.1,121.7 578.6,137.8 574.5,136.2" fill="#b08b8b" stroke="#1a1a1a" stroke-width="0.8" stroke-linejoin="round" /><polygon points="614.8,113.2 620.1,114.8 612.5,129.3 607.2,127.7" fill="#b08b8b" stroke="#1a1a1a" stroke-width="0.8" stroke-linejoin="round" /><polygon points="602.1,125.8 612.5,130.0 604.4,144.3 594.7,140.1" fill="#b08b8b" stroke="#1a1a1a" stroke-width="0.8" stroke-linejoin="round" /><polyline points="607.2,127.7 599.4,142.0" fill="none" stroke="#1a1a1a" stroke-width="0.5" stroke-linejoin="round" stroke-linecap="round" /><polygon points="615.9,147.7 622.4,146.1 623.3,173.8 615.9,174.7" fill="#82acd9" stroke="#1a1a1a" stroke-width="0.8" stroke-linejoin="round" /><polygon points="508.8,182.3 524.9,183.4 514.6,205.1 498.0,205.1 501.9,192.6" fill="#b08b8b" stroke="#1a1a1a" stroke-width="0.8" stroke-linejoin="round" /><polyline points="516.9,183.0 506.5,205.1" fill="none" stroke="#1a1a1a" stroke-width="0.9" stroke-linejoin="round" stroke-linecap="round" /><polyline points="502.1,179.2 525.6,181.0 548.7,182.9" fill="none" stroke="#1a1a1a" stroke-width="1.1" stroke-linejoin="round" stroke-linecap="round" /><polyline points="531.2,183.3 547.2,183.3" fill="none" stroke="#6fa860" stroke-width="1.0" stroke-linejoin="round" stroke-linecap="round" /><polyline points="516.7,179.9 520.2,180.3" fill="none" stroke="#6fa860" stroke-width="1.4" stroke-linejoin="round" stroke-linecap="round" /><polygon points="563.4,193.8 571.7,192.6 572.2,201.4 564.1,201.9" fill="#b08b8b" stroke="#1a1a1a" stroke-width="0.8" stroke-linejoin="round" /><polygon points="580.9,186.2 584.8,186.2 585.5,190.3 588.3,189.2 591.8,190.3 592.4,200.7 581.4,201.4" fill="#b08b8b" stroke="#1a1a1a" stroke-width="0.8" stroke-linejoin="round" /><polygon points="623.3,197.3 636.7,197.3 636.7,205.1 623.3,205.1" fill="#84b878" stroke="#1a1a1a" stroke-width="0.8" stroke-linejoin="round" /><polygon points="552.6,202.3 560.6,202.3 560.6,205.1 552.6,205.1" fill="#b08b8b" stroke="#1a1a1a" stroke-width="0.8" stroke-linejoin="round" /><polygon points="578.6,201.4 587.1,201.4 587.1,205.1 578.6,205.1" fill="#82acd9" stroke="#1a1a1a" stroke-width="0.8" stroke-linejoin="round" /><polyline points="510.0,170.1 514.6,170.5" fill="none" stroke="#3b8de8" stroke-width="0.8" stroke-linejoin="round" stroke-linecap="round" /><polyline points="527.2,171.4 531.8,171.7" fill="none" stroke="#3b8de8" stroke-width="0.8" stroke-linejoin="round" stroke-linecap="round" /><polyline points="539.9,176.5 542.7,176.7" fill="none" stroke="#3b8de8" stroke-width="0.6" stroke-linejoin="round" stroke-linecap="round" /><polygon points="571.0,147.0 576.8,146.6 576.3,150.0 571.2,150.7" fill="#cfd0e6" stroke-linejoin="round" /></svg>
<div class="abs" style="left:-1px;top:-0.5px;width:0;height:0"><div class="mb" style="left:7.9px;top:8.9px;width:17px;height:17px"></div><div class="mb" style="left:7.9px;top:34px;width:17px;height:17px"></div><div class="mb" style="left:7.9px;top:59.3px;width:17px;height:17px"></div><div class="mb" style="left:7.9px;top:84px;width:17px;height:34px"></div><svg style="left:10.71px;top:11.31px" width="11.78" height="11.78" viewBox="0 0 24 24" preserveAspectRatio="none"><path d="M2 2.6 H22 L14.5 12 V21.6 H9.5 V12 Z" fill="none" stroke="#0d6d96" stroke-width="2.5" stroke-linejoin="round"/></svg><svg style="left:10.50px;top:37.17px" width="11.89" height="10.25" viewBox="0 0 24 24" preserveAspectRatio="none"><path d="M2.3 7 H7 L9 2.4 H15 L17 7 H21.7 V21.6 H2.3 Z" fill="none" stroke="#0d6d96" stroke-width="2.5" stroke-linejoin="round"/><circle cx="12" cy="13.8" r="3.7" fill="none" stroke="#0d6d96" stroke-width="2.3"/></svg><svg style="left:10.73px;top:62.12px" width="11.35" height="11.56" viewBox="0 0 24 24" preserveAspectRatio="none"><circle cx="10" cy="10" r="7" fill="none" stroke="#0d6d96" stroke-width="2.6"/><path d="M15.5 15.5 L22 22" fill="none" stroke="#0d6d96" stroke-width="3" /></svg><svg style="left:11.60px;top:87.80px" width="9.60" height="9.60" viewBox="0 0 24 24" preserveAspectRatio="none"><path d="M12 2 V22 M2 12 H22" fill="none" stroke="#0d6d96" stroke-width="2.2" /></svg><svg style="left:12.00px;top:108.60px" width="8.80" height="2.00" viewBox="0 10 24 4" preserveAspectRatio="none"><path d="M2 12 H22" fill="none" stroke="#0d6d96" stroke-width="2.4" /></svg><div class="abs" style="left:14.6px;top:127px;width:3.4px;height:60px;background:#a9a9a9;border-radius:1.5px"></div><div class="abs" style="left:11.4px;top:147.5px;width:9.8px;height:5.5px;background:#fff;border-radius:1px;box-shadow:0 0 1px rgba(0,0,0,.4)"></div><div class="mb" style="left:570.4px;top:8.9px;width:17px;height:17px"></div><svg style="left:573.12px;top:11.52px" width="11.56" height="11.56" viewBox="0 0 24 24" preserveAspectRatio="none"><path d="M2 8 V2 H8 M16 2 H22 V8 M22 16 V22 H16 M8 22 H2 V16 M3 3 L9.5 9.5 M21 3 L14.5 9.5 M21 21 L14.5 14.5 M3 21 L9.5 14.5" fill="none" stroke="#0d6d96" stroke-width="2.6" /></svg><div class="mb" style="left:570.4px;top:58.4px;width:17px;height:69px"></div><svg style="left:573.76px;top:61.32px" width="10.47" height="11.56" viewBox="0 0 24 24" preserveAspectRatio="none"><path d="M12 2 L22 7 L12 12 L2 7 Z M2 12 L12 17 L22 12 M2 17 L12 22 L22 17" fill="none" stroke="#0d6d96" stroke-width="2.3" stroke-linejoin="round"/></svg><svg style="left:573.98px;top:78.52px" width="10.04" height="11.56" viewBox="0 0 24 24" preserveAspectRatio="none"><path d="M12 6 L4 22 M12 6 L20 22 M5 15 C9 19 15 19 21 13" fill="none" stroke="#0d6d96" stroke-width="2.2" /><circle cx="12" cy="4.5" r="2.6" fill="none" stroke="#0d6d96" stroke-width="2"/></svg><svg style="left:573.55px;top:95.96px" width="10.91" height="10.47" viewBox="0 0 24 24" preserveAspectRatio="none"><path d="M6 5 H17 a3.5 3.5 0 0 1 0 7 H7 a3.5 3.5 0 0 0 0 7 H17" fill="none" stroke="#0d6d96" stroke-width="2.4" /><circle cx="4.5" cy="5" r="2.6" fill="#0d6d96"/><circle cx="19.5" cy="19" r="2.6" fill="#0d6d96"/></svg><svg style="left:573.33px;top:112.35px" width="11.35" height="10.91" viewBox="0 0 24 24" preserveAspectRatio="none"><path d="M6 21 H18 a4 4 0 0 0 0 -8 a6 6 0 0 0 -11.5 -1 A4.5 4.5 0 0 0 6 21 Z" fill="none" stroke="#0d6d96" stroke-width="2.3" /><path d="M14 6 a4 4 0 0 1 6 5 M16 1 V3 M22 4 L20.5 5.5 M23 10 H21" fill="none" stroke="#0d6d96" stroke-width="1.8" /></svg><div class="mb" style="left:553.2px;top:135.6px;width:34.2px;height:17px"></div><svg style="left:556.35px;top:138.53px" width="10.91" height="11.35" viewBox="0 0 24 24" preserveAspectRatio="none"><path d="M2 4 H22 V22 H2 Z M2 9 H22 M7 1 V5 M17 1 V5 M12 1 V5" fill="none" stroke="#0d6d96" stroke-width="2.4" /><path d="M7 12 H10.5 V15 H7Z M13.5 12 H17 V15 H13.5Z M7 16.5 H10.5 V19.5 H7Z M13.5 16.5 H17 V19.5 H13.5Z" fill="#0d6d96" /></svg><svg style="left:573.55px;top:138.53px" width="10.91" height="11.35" viewBox="0 0 24 24" preserveAspectRatio="none"><path d="M22 12 V2 H2 V22 H12" fill="none" stroke="#0d6d96" stroke-width="2.6" /><path d="M8 8 L16 11 L13 13 L20 20 L18.5 21.5 L12 14.5 L10.5 17 Z" fill="#0d6d96" /></svg></div>
</div>
<div class="abs" style="left:2px;top:205px;width:300.6px;height:199px;background:#1c7aa6"></div>
<div id="bl" class="abs">
<div class="abs" style="left:0;top:0;width:301px;height:1px;background:#1c7aa6"></div>
<div class="abs" style="left:0;top:0.5px;width:301px;height:20px;background:#035a7f"></div>
<div class="abs" style="left:0;top:20.5px;width:301px;height:19.2px;background:#eef2f7;border-bottom:1px solid #d0d5db"></div>
<div class="abs" style="left:0;top:39.7px;width:301px;height:18.8px;background:#e6e9f0;border-bottom:1px solid #cfd3d9"></div>
<div class="abs" style="left:20.1px;top:20.5px;width:1px;height:38px;background:#d0d5db"></div>
<div class="abs" style="left:39.0px;top:20.5px;width:1px;height:38px;background:#d0d5db"></div>
<div class="abs" style="left:58.1px;top:20.5px;width:1px;height:38px;background:#d0d5db"></div>
<div class="abs" style="left:125.0px;top:20.5px;width:1px;height:38px;background:#d0d5db"></div>
<div class="abs" style="left:204.2px;top:20.5px;width:1px;height:38px;background:#d0d5db"></div>
<div class="abs" style="left:223.3px;top:20.5px;width:1px;height:38px;background:#d0d5db"></div>
<div class="abs" style="left:242.5px;top:20.5px;width:1px;height:38px;background:#d0d5db"></div>
<div class="abs" style="left:262.1px;top:20.5px;width:1px;height:38px;background:#d0d5db"></div>
<div class="abs" style="left:281.2px;top:20.5px;width:1px;height:38px;background:#d0d5db"></div>
<svg style="left:23.91px;top:24.53px" width="11.78" height="11.35" viewBox="0 0 24 24" preserveAspectRatio="none"><path d="M3 8 L5 3 H9.5 V8 M14.5 8 V3 H19 L21 8" fill="none" stroke="#6a6a6a" stroke-width="2" /><path d="M1.5 9 H10 V21 H1.5 Z M14 9 H22.5 V21 H14 Z" fill="none" stroke="#6a6a6a" stroke-width="2.2" /><path d="M10 11 H14 V15 H10Z" fill="#6a6a6a" /></svg><svg style="left:43.01px;top:24.95px" width="11.78" height="10.69" viewBox="0 0 24 24" preserveAspectRatio="none"><path d="M5 4 H19 L21 10 H3 Z" fill="none" stroke="#6a6a6a" stroke-width="2.2" stroke-linejoin="round"/><path d="M1.5 10 H22.5 V19 H1.5 Z M2 19 V22.5 H6 V19 M18 19 V22.5 H22 V19" fill="#6a6a6a" /><circle cx="6" cy="14.5" r="1.7" fill="#eef2f7"/><circle cx="18" cy="14.5" r="1.7" fill="#eef2f7"/></svg><svg style="left:208.83px;top:24.33px" width="11.35" height="11.35" viewBox="0 0 24 24" preserveAspectRatio="none"><path d="M17.5 5 A9 9 0 1 0 20.8 13" fill="none" stroke="#6a6a6a" stroke-width="2.5" /><path d="M16.5 10.5 L20.9 13.8 L23.2 8.8" fill="none" stroke="#6a6a6a" stroke-width="2.5" /></svg><svg style="left:227.83px;top:24.33px" width="11.35" height="11.35" viewBox="0 0 24 24" preserveAspectRatio="none"><path d="M4.5 7 A9 9 0 1 1 3 12" fill="none" stroke="#6a6a6a" stroke-width="2" /><path d="M1 3.5 L5.2 7.8 L8.5 3 " fill="none" stroke="#6a6a6a" stroke-width="1.8" /><path d="M12 7.5 V13 H16.5" fill="none" stroke="#6a6a6a" stroke-width="2" /></svg><svg style="left:247.13px;top:24.33px" width="11.35" height="11.35" viewBox="0 0 24 24" preserveAspectRatio="none"><path d="M8.5 11.5 L16 2 L22 6.5 L14.5 16 Z" fill="#6a6a6a" /><path d="M7.8 13 L13 17 L6 19.5 Z" fill="#6a6a6a" /><path d="M1.5 20.5 C5 14.5 7 22.5 10 19.5 C13 16.5 15 23.5 22.5 17" fill="none" stroke="#6a6a6a" stroke-width="2.2" /></svg><svg style="left:266.33px;top:24.33px" width="11.35" height="11.35" viewBox="0 0 24 24" preserveAspectRatio="none"><path d="M11 4 A9 9 0 1 0 20 13 H11 Z" fill="#6a6a6a" /><path d="M13.5 1.5 A9 9 0 0 1 22.5 10.5 H13.5 Z" fill="#6a6a6a" /></svg><svg style="left:285.53px;top:24.33px" width="11.35" height="11.35" viewBox="0 0 24 24" preserveAspectRatio="none"><circle cx="12" cy="12" r="9.8" fill="none" stroke="#6a6a6a" stroke-width="1.8"/><path d="M8 8 L16 16 M16 8 L8 16" fill="none" stroke="#6a6a6a" stroke-width="2" /></svg><div class="abs" style="left:25.2px;top:45.2px;width:8.4px;height:8px;border:0.8px solid #bdbdbd;background:#fcfcfc"></div><svg style="left:26.00px;top:46.00px" width="6.80" height="6.40" viewBox="0 0 10 10" preserveAspectRatio="none"><path d="M1.5 5.2 L4 7.8 L8.8 2" fill="none" stroke="#444" stroke-width="1.1" /></svg><svg style="left:43.04px;top:43.00px" width="11.13" height="11.89" viewBox="0 0 24 24" preserveAspectRatio="none"><path d="M11 3.5 A9.2 9.2 0 1 0 17 19.5 L11 12.5 Z" fill="#777" /><path d="M13 2 A9 9 0 0 1 18.5 4.5 L13 11 Z" fill="#999" /><path d="M19.8 6 A9 9 0 0 1 19 18 L14.3 12.3 Z" fill="#aaa" /></svg><svg style="left:208.83px;top:43.33px" width="11.35" height="11.35" viewBox="0 0 24 24" preserveAspectRatio="none"><path d="M17.5 5 A9 9 0 1 0 20.8 13" fill="none" stroke="#aaa" stroke-width="1.7" /><path d="M16.8 10.8 L20.9 13.8 L23 9.2" fill="none" stroke="#aaa" stroke-width="1.7" /></svg><svg style="left:285.53px;top:43.33px" width="11.35" height="11.35" viewBox="0 0 24 24" preserveAspectRatio="none"><circle cx="12" cy="12" r="9.8" fill="none" stroke="#6a6a6a" stroke-width="1.8"/><path d="M8 8 L16 16 M16 8 L8 16" fill="none" stroke="#6a6a6a" stroke-width="2" /></svg>
</div>
<div class="abs" style="left:304px;top:204.8px;width:595.2px;height:199.2px;background:#1c7aa6"></div>
<div id="br" class="abs">
<div class="abs" style="left:0;top:0;width:594px;height:1px;background:#1c7aa6"></div>
<div class="abs" style="left:0;top:0.6px;width:594px;height:18.8px;background:#035a7f"></div>
<div class="abs" style="left:4px;top:3.8px;width:152.5px;height:16px;background:#fff;border-radius:2px 2px 0 0"></div>
<div class="abs" style="left:0;top:19.4px;width:594px;height:0.8px;background:#5aa3c6"></div>
<svg style="left:7.45px;top:6.13px" width="10.91" height="11.35" viewBox="0 0 24 24" preserveAspectRatio="none"><path d="M11 3.5 A9.2 9.2 0 1 0 17 19.5 L11 12.5 Z" fill="#0b5c85" /><path d="M13 2 A9 9 0 0 1 18.5 4.5 L13 11 Z" fill="#3f8fb6" /><path d="M19.8 6 A9 9 0 0 1 19 18 L14.3 12.3 Z" fill="#6faecb" /></svg><svg style="left:146.66px;top:8.96px" width="5.67" height="5.67" viewBox="0 0 24 24" preserveAspectRatio="none"><path d="M2 2 L22 22 M22 2 L2 22" fill="none" stroke="#333" stroke-width="3.4" /></svg><svg style="left:546.84px;top:4.62px" width="11.13" height="11.56" viewBox="0 0 24 24" preserveAspectRatio="none"><path d="M6 9 V2 H18 V9 M6 17 H2 V9 H22 V17 H18 M6 14 H18 V22 H6 Z" fill="none" stroke="#4fc3f7" stroke-width="2.2" /></svg><div class="abs" style="left:561px;top:3.2px;width:13px;height:13px;background:#29b6f6;border-radius:1px"></div><svg style="left:562.89px;top:4.84px" width="9.82" height="11.13" viewBox="0 0 24 24" preserveAspectRatio="none"><path d="M7 2 H17 M9 2 V10 L5.5 14 H18.5 L15 10 V2 M12 14 V22" fill="none" stroke="#fff" stroke-width="2.4" /></svg><svg style="left:578.44px;top:4.75px" width="11.13" height="10.91" viewBox="0 0 24 24" preserveAspectRatio="none"><rect x="2" y="2" width="20" height="8" rx="3.5" fill="none" stroke="#4fc3f7" stroke-width="2.2"/><rect x="2" y="14" width="20" height="8" rx="3.5" fill="none" stroke="#4fc3f7" stroke-width="2.2"/></svg>
<div class="abs" style="left:30.69999999999999px;top:158.10px;width:390.3px;height:0.8px;background:#ebebeb"></div><div class="abs" style="left:30.69999999999999px;top:141.65px;width:390.3px;height:0.8px;background:#ebebeb"></div><div class="abs" style="left:30.69999999999999px;top:125.20px;width:390.3px;height:0.8px;background:#ebebeb"></div><div class="abs" style="left:30.69999999999999px;top:108.75px;width:390.3px;height:0.8px;background:#ebebeb"></div><div class="abs" style="left:30.69999999999999px;top:92.30px;width:390.3px;height:0.8px;background:#ebebeb"></div><div class="abs" style="left:30.69999999999999px;top:75.85px;width:390.3px;height:0.8px;background:#ebebeb"></div><div class="abs" style="left:30.69999999999999px;top:59.40px;width:390.3px;height:0.8px;background:#ebebeb"></div><div class="abs" style="left:30.69999999999999px;top:42.95px;width:390.3px;height:0.8px;background:#ebebeb"></div><div class="abs" style="left:30.69999999999999px;top:26.50px;width:390.3px;height:0.8px;background:#ebebeb"></div><div class="abs" style="left:36.29999999999999px;top:26.900000000000006px;width:0.8px;height:136.6px;background:#ebebeb"></div><div class="abs" style="left:371.9px;top:26.900000000000006px;width:0.8px;height:136.6px;background:#ebebeb"></div><div class="abs" style="left:49.0px;top:28.87px;width:69.0px;height:129.63px;background:#8b4042"></div><div class="abs" style="left:145.0px;top:28.39px;width:69.20000000000005px;height:130.11px;background:#2f7dcc"></div><div class="abs" style="left:241.39999999999998px;top:106.90px;width:69.39999999999998px;height:51.60px;background:#3a973a"></div><div class="abs" style="left:338px;top:155.38px;width:68.79999999999995px;height:3.12px;background:#a8c898"></div><div class="abs" style="left:427.20000000000005px;top:44.69999999999999px;width:9.9px;height:9.9px;border:1.4px solid #8b2020;border-radius:1.4px;background:#fff"></div><svg style="left:429.10px;top:46.60px" width="6.20" height="6.20" viewBox="0 0 10 10" preserveAspectRatio="none"><path d="M1.5 5.2 L4 7.8 L8.8 2" fill="none" stroke="#8b2020" stroke-width="2.1" /></svg><div class="abs" style="left:427.20000000000005px;top:58.5px;width:9.9px;height:9.9px;border:1.4px solid #1f6fc8;border-radius:1.4px;background:#fff"></div><svg style="left:429.10px;top:60.40px" width="6.20" height="6.20" viewBox="0 0 10 10" preserveAspectRatio="none"><path d="M1.5 5.2 L4 7.8 L8.8 2" fill="none" stroke="#1f6fc8" stroke-width="2.1" /></svg><div class="abs" style="left:427.20000000000005px;top:72.10000000000002px;width:9.9px;height:9.9px;border:1.4px solid #2f8f2f;border-radius:1.4px;background:#fff"></div><svg style="left:429.10px;top:74.00px" width="6.20" height="6.20" viewBox="0 0 10 10" preserveAspectRatio="none"><path d="M1.5 5.2 L4 7.8 L8.8 2" fill="none" stroke="#2f8f2f" stroke-width="2.1" /></svg><div class="abs" style="left:427.20000000000005px;top:86.10000000000002px;width:9.9px;height:9.9px;border:1.4px solid #9cc08a;border-radius:1.4px;background:#fff"></div><svg style="left:429.10px;top:88.00px" width="6.20" height="6.20" viewBox="0 0 10 10" preserveAspectRatio="none"><path d="M1.5 5.2 L4 7.8 L8.8 2" fill="none" stroke="#9cc08a" stroke-width="2.1" /></svg>
</div>
<div class="abs" style="left:302.6px;top:43px;width:1.8px;height:160.8px;background:#a3cee5"></div>
<div class="abs" style="left:304.4px;top:43px;width:1px;height:160.8px;background:#d8e9f3"></div>
<div class="abs" style="left:303.7px;top:23.5px;width:1.3px;height:19.5px;background:#9ccae2"></div>
<div class="abs" style="left:2px;top:43px;width:0.8px;height:161px;background:#2f86b0"></div>
<div class="abs" style="left:2px;top:226.5px;width:0.8px;height:178px;background:#2f86b0"></div>
<div class="abs" style="left:304px;top:226px;width:1px;height:178px;background:#7fb4d1"></div>
<div class="t" style="left:25.70px;top:5.30px;font-size:10.2px;line-height:11px;color:#fff;font-weight:bold;transform:scaleX(1.0937);transform-origin:0 50%;-webkit-text-stroke:0.35px #fff;">ГЛОНАСС</div>
<div class="t" style="left:81.60px;top:5.30px;font-size:10.2px;line-height:11px;color:#8fd12b;font-weight:bold;transform:scaleX(1.3667);transform-origin:0 50%;-webkit-text-stroke:0.35px #8fd12b;">Soft</div>
<div class="t" style="left:145.00px;top:6.30px;font-size:7.7px;line-height:9px;color:#fff;font-weight:bold;transform:scaleX(1.0115);transform-origin:0 50%;">Мониторинг</div>
<div class="t" style="left:221.20px;top:6.30px;font-size:7.7px;line-height:9px;color:#fff;font-weight:bold;transform:scaleX(1.0136);transform-origin:0 50%;">Маршруты</div>
<div class="t" style="left:292.40px;top:6.30px;font-size:7.7px;line-height:9px;color:#fff;font-weight:bold;transform:scaleX(1.0191);transform-origin:0 50%;">Геообъекты</div>
<div class="t" style="left:369.00px;top:6.30px;font-size:7.7px;line-height:9px;color:#fff;font-weight:bold;">Поля</div>
<div class="t" style="left:417.60px;top:6.30px;font-size:7.7px;line-height:9px;color:#fff;font-weight:bold;transform:scaleX(1.0165);transform-origin:0 50%;">Уведомления</div>
<div class="t" style="left:499.20px;top:6.30px;font-size:7.7px;line-height:9px;color:#fff;font-weight:bold;transform:scaleX(1.0223);transform-origin:0 50%;">Отчеты</div>
<div class="t" style="left:838.20px;top:2.30px;font-size:6.9px;line-height:7px;color:#fff;font-weight:bold;transform:scaleX(1.0450);transform-origin:0 50%;">yaroshenko.ma</div>
<div class="t" style="left:838.20px;top:10.30px;font-size:6.9px;line-height:7px;color:#3cc4fb;transform:scaleX(1.0195);transform-origin:0 50%;">Агро+Тесты</div>
<div class="t" style="left:822.40px;top:5.30px;font-size:8.8px;line-height:10px;color:#0a4a6a;transform:scaleX(1.0222);transform-origin:0 50%;">Y</div>
<div class="t" style="left:25.80px;top:30.30px;font-size:6.6px;line-height:7px;color:#151515;transform:scaleX(1.0556);transform-origin:0 50%;">2022</div>
<div class="t" style="left:64.70px;top:30.30px;font-size:6.6px;line-height:7px;color:#151515;transform:scaleX(1.1020);transform-origin:0 50%;">Все культуры</div>
<div class="t" style="left:145.30px;top:30.30px;font-size:6.6px;line-height:7px;color:#151515;transform:scaleX(1.1006);transform-origin:0 50%;">Культура</div>
<div class="t" style="left:226.40px;top:30.30px;font-size:6.6px;line-height:7px;color:#808890;transform:scaleX(1.0662);transform-origin:0 50%;">Поиск</div>
<div class="t" style="left:148.90px;top:68.30px;font-size:6.8px;line-height:7px;color:#555;transform:scaleX(1.0264);transform-origin:0 50%;">Поле</div>
<div class="t" style="left:27.10px;top:87.30px;font-size:6.7px;line-height:7px;color:#125a80;font-weight:bold;transform:scaleX(1.0813);transform-origin:0 50%;">Сельскохозяйственные поля (387)</div>
<div class="t" style="left:33.80px;top:106.30px;font-size:6.7px;line-height:7px;color:#125a80;font-weight:bold;transform:scaleX(1.0714);transform-origin:0 50%;">Абрикосы (1)</div>
<div class="t" style="left:33.80px;top:125.30px;font-size:6.7px;line-height:7px;color:#125a80;font-weight:bold;transform:scaleX(1.0818);transform-origin:0 50%;">Без культуры (1)</div>
<div class="t" style="left:33.80px;top:145.30px;font-size:6.7px;line-height:7px;color:#125a80;font-weight:bold;transform:scaleX(1.0827);transform-origin:0 50%;">Кукуруза на зерно (21)</div>
<div class="t" style="left:33.80px;top:164.30px;font-size:6.7px;line-height:7px;color:#125a80;font-weight:bold;transform:scaleX(1.0842);transform-origin:0 50%;">Кукуруза на силос (25)</div>
<div class="t" style="left:33.80px;top:183.30px;font-size:6.7px;line-height:7px;color:#125a80;font-weight:bold;transform:scaleX(1.0796);transform-origin:0 50%;">Многолетние травы посева прошлых лет (19)</div>
<div class="abs" style="left:2px;top:196px;width:289px;height:7.8px;overflow:hidden"><div class="t" style="left:31.80px;top:6.30px;font-size:6.7px;line-height:7px;color:#125a80;font-weight:bold;transform:scaleX(1.0803);transform-origin:0 50%;">Многолетние травы текущего года (15)</div></div>
<div class="t" style="left:6.80px;top:213.30px;font-size:7.0px;line-height:7px;color:#fff;font-weight:bold;transform:scaleX(1.0276);transform-origin:0 50%;">Построенные отчеты</div>
<div class="t" style="left:8.40px;top:233.30px;font-size:7.0px;line-height:7px;color:#6a7078;transform:scaleX(1.0121);transform-origin:0 50%;">№</div>
<div class="t" style="left:68.60px;top:233.30px;font-size:6.7px;line-height:7px;color:#666;transform:scaleX(1.0830);transform-origin:0 50%;">Наименование</div>
<div class="t" style="left:133.80px;top:233.30px;font-size:6.7px;line-height:7px;color:#666;transform:scaleX(1.0833);transform-origin:0 50%;">Период построения</div>
<div class="t" style="left:10.70px;top:252.30px;font-size:6.5px;line-height:7px;color:#222;transform:scaleX(0.8022);transform-origin:0 50%;">1</div>
<div class="t" style="left:64.50px;top:252.30px;font-size:6.7px;line-height:7px;color:#2a2a2a;transform:scaleX(1.0914);transform-origin:0 50%;">Структура пос...</div>
<div class="t" style="left:326.80px;top:214.30px;font-size:6.7px;line-height:7px;color:#222;transform:scaleX(1.0774);transform-origin:0 50%;">Структура посевных площадей (61)</div>
<div class="t" style="left:329.58px;top:361.30px;font-size:6.9px;line-height:7px;color:#707070;transform:scaleX(1.0736);transform-origin:0 50%;">0</div>
<div class="t" style="left:321.34px;top:345.30px;font-size:6.9px;line-height:7px;color:#707070;transform:scaleX(1.0736);transform-origin:0 50%;">200</div>
<div class="t" style="left:321.34px;top:328.30px;font-size:6.9px;line-height:7px;color:#707070;transform:scaleX(1.0736);transform-origin:0 50%;">400</div>
<div class="t" style="left:321.34px;top:312.30px;font-size:6.9px;line-height:7px;color:#707070;transform:scaleX(1.0736);transform-origin:0 50%;">600</div>
<div class="t" style="left:321.34px;top:295.30px;font-size:6.9px;line-height:7px;color:#707070;transform:scaleX(1.0736);transform-origin:0 50%;">800</div>
<div class="t" style="left:321.34px;top:279.30px;font-size:6.9px;line-height:7px;color:#707070;transform:scaleX(1.0736);transform-origin:0 50%;">000</div>
<div class="t" style="left:314.70px;top:279.30px;font-size:6.9px;line-height:7px;color:#707070;transform:scaleX(1.0736);transform-origin:0 50%;">1</div>
<div class="t" style="left:321.34px;top:262.30px;font-size:6.9px;line-height:7px;color:#707070;transform:scaleX(1.0736);transform-origin:0 50%;">200</div>
<div class="t" style="left:314.70px;top:262.30px;font-size:6.9px;line-height:7px;color:#707070;transform:scaleX(1.0736);transform-origin:0 50%;">1</div>
<div class="t" style="left:321.34px;top:246.30px;font-size:6.9px;line-height:7px;color:#707070;transform:scaleX(1.0736);transform-origin:0 50%;">400</div>
<div class="t" style="left:314.70px;top:246.30px;font-size:6.9px;line-height:7px;color:#707070;transform:scaleX(1.0736);transform-origin:0 50%;">1</div>
<div class="t" style="left:321.34px;top:229.30px;font-size:6.9px;line-height:7px;color:#707070;transform:scaleX(1.0736);transform-origin:0 50%;">600</div>
<div class="t" style="left:314.70px;top:229.30px;font-size:6.9px;line-height:7px;color:#707070;transform:scaleX(1.0736);transform-origin:0 50%;">1</div>
<div class="t" style="left:374.59px;top:296.30px;font-size:7.1px;line-height:8px;color:#151515;transform:scaleX(1.0836);transform-origin:0 50%;">1576.10</div>
<div class="t" style="left:470.69px;top:296.30px;font-size:7.1px;line-height:8px;color:#151515;transform:scaleX(1.0836);transform-origin:0 50%;">1581.92</div>
<div class="t" style="left:569.33px;top:335.30px;font-size:7.1px;line-height:8px;color:#151515;transform:scaleX(1.0836);transform-origin:0 50%;">627.39</div>
<div class="t" style="left:667.77px;top:359.30px;font-size:7.1px;line-height:8px;color:#151515;transform:scaleX(1.0836);transform-origin:0 50%;">37.90</div>
<div class="t" style="left:355.50px;top:372.30px;font-size:7.2px;line-height:9px;color:#555;transform:scaleX(1.1041);transform-origin:0 50%;">Кукуруза на силос</div>
<div class="t" style="left:518.40px;top:372.30px;font-size:7.2px;line-height:9px;color:#555;transform:scaleX(1.0945);transform-origin:0 50%;">Многолетние травы текущего года</div>
<div class="t" style="left:521.60px;top:391.30px;font-size:10.5px;line-height:12px;color:#333;font-weight:bold;transform:scaleX(1.0043);transform-origin:0 50%;">Без подразделения: 3823.40 га</div>
<div class="t" style="left:856.80px;top:236.30px;font-size:6.6px;line-height:7px;color:#0b5c85;transform:scaleX(1.1124);transform-origin:0 50%;">снять все</div>
<div class="abs" style="left:856.8px;top:243.3px;width:32.5px;height:0;border-top:0.7px dashed #0b5c85"></div>
<div class="t" style="left:746.40px;top:252.30px;font-size:6.7px;line-height:7px;color:#222;transform:scaleX(1.0806);transform-origin:0 50%;">Кукуруза на силос</div>
<div class="t" style="left:746.40px;top:266.30px;font-size:6.7px;line-height:7px;color:#222;transform:scaleX(1.0821);transform-origin:0 50%;">Многолетние травы посева прошлых лет</div>
<div class="t" style="left:746.40px;top:280.30px;font-size:6.7px;line-height:7px;color:#222;transform:scaleX(1.0834);transform-origin:0 50%;">Многолетние травы текущего года</div>
<div class="t" style="left:746.40px;top:294.30px;font-size:6.7px;line-height:7px;color:#222;transform:scaleX(1.0913);transform-origin:0 50%;">Пастбище</div>
</body>
</html>
